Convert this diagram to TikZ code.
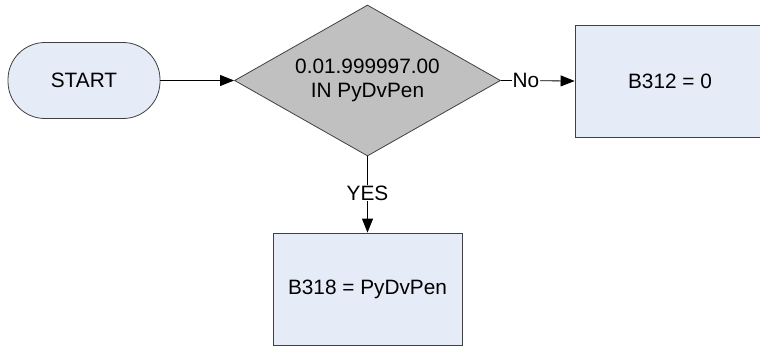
\documentclass[tikz,border=0pt]{standalone}
\usepackage{fontspec}
\setmainfont{Liberation Sans}
\usetikzlibrary{shapes.geometric,arrows.meta}
\definecolor{edgegray}{HTML}{404040}
\definecolor{boxfill}{HTML}{E6ECF7}
\definecolor{decfill}{HTML}{C0C0C0}
\begin{document}
\begin{tikzpicture}[x=1pt,y=-1pt,
  every node/.style={font=\fontsize{20.8}{24.5}\selectfont, text=black},
  term/.style={draw=edgegray, line width=0.8pt, fill=boxfill, rounded corners=37pt, minimum width=152pt, minimum height=76pt, inner sep=0pt},
  decision/.style={draw=edgegray, line width=0.8pt, fill=decfill, diamond, minimum width=266pt, minimum height=151pt, inner sep=0pt, aspect=1.76, align=center},
  procbox/.style={draw=edgegray, line width=0.8pt, fill=boxfill, minimum width=190pt, minimum height=112pt, inner sep=0pt},
  conn/.style={draw=black, line width=0.8pt, -{Triangle[length=14pt,width=11pt]}},
  lbl/.style={fill=white, inner sep=1pt}
]
\useasboundingbox (0,0) rectangle (760,346);
\clip (0,0) rectangle (760,346);
\node[term] (start) at (84,80.5) {START};
\node[decision] (dec) at (367.5,80.5) {0.01.999997.00\\IN PyDvPen};
\node[procbox] (no) at (670,81) {B312 = 0};
\node[procbox, minimum width=189pt] (yes) at (367.5,289) {B318 = PyDvPen};
\draw[conn] (start.east) -- (dec.west);
\draw[conn] (dec.east) -- node[lbl, pos=0.34] {No} (no.west);
\draw[conn] (dec.south) -- node[lbl, pos=0.48] {YES} (yes.north);
\end{tikzpicture}
\end{document}
